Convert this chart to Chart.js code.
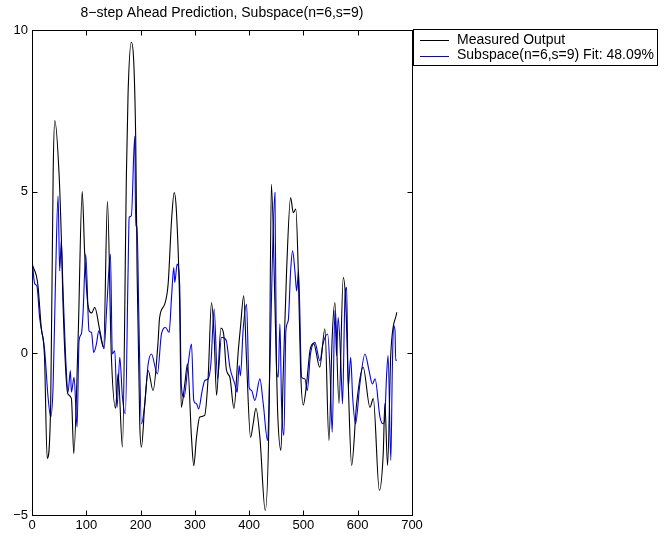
<!DOCTYPE html>
<html><head><meta charset="utf-8">
<script src="https://cdn.jsdelivr.net/npm/chart.js@4.4.0/dist/chart.umd.min.js"></script>
<style>html,body{margin:0;padding:0;background:#fff;}#wrap{width:665px;height:537px;position:relative;}</style>
</head><body><div id="wrap"><canvas id="c" width="665" height="537"></canvas></div>
<script>
const chartTitle = '8\u2212step Ahead Prediction, Subspace(n=6,s=9)';
const seriesNames = ['Measured Output', 'Subspace(n=6,s=9) Fit: 48.09%'];
const xTicks = [0, 100, 200, 300, 400, 500, 600, 700];
const yTicks = [-5, 0, 5, 10];
const yTickLabels = ['\u22125', '0', '5', '10'];

const measuredX = [0, 8, 11, 17, 23, 28, 34.5, 39, 42, 50, 54, 57, 62, 66, 72.6, 77, 85, 92.5, 97, 103, 110, 115.6, 125, 132, 139, 146, 154, 158.6, 166.6, 174, 177, 183, 191, 193.6, 198.5, 201.6, 207.8, 214, 223, 232, 235, 244.6, 250.8, 257, 262, 266, 272, 275, 281.5, 286.5, 293.8, 298, 303, 309, 318, 324.5, 330.7, 335.6, 340, 348, 353, 358, 364.5, 372, 380, 384, 390, 395, 402.6, 407.5, 412.5, 419.8, 429.6, 437, 441, 447.5, 452.4, 458.5, 463, 469, 476.4, 481.3, 486, 490.5, 494.8, 499.7, 505.8, 512, 519, 530, 539.6, 547, 553, 558, 565.5, 573.4, 578, 582.6, 588.8, 598, 610, 622.6, 628.7, 639.8, 647, 650, 655, 661, 672];
const measuredY = [2.75, 2.4, 2.1, 0.8, -0.1, -3.25, -1.5, 5.6, 7.2, 5.5, 3.6, 1.6, -0.5, -1.25, -1.4, -3.1, 0.5, 5.0, 3.1, 1.5, 1.25, 1.42, 0.7, 0.19, 4.7, 0.0, -1.7, -0.63, -2.9, 5.6, 8.06, 9.62, 6.7, 2.5, -2.17, -2.9, -1.55, -0.53, -1.15, 0.3, 1.1, 1.53, 2.15, 4.1, 4.97, 4.4, 1.53, -1.67, -0.94, -0.32, -2.6, -3.47, -2.6, -1.97, -1.92, -0.74, 1.57, 0.5, -1.3, 0.78, 0.6, -0.5, -0.74, -1.7, 0.08, 0.8, 1.78, -0.12, -2.6, -2.17, -1.7, -2.6, -4.86, -1.56, 5.23, 1.53, -1.77, -3.0, -0.53, 2.55, 4.82, 4.35, 4.46, 2.55, -0.53, -1.6, -0.94, 0.08, 0.3, -0.43, 0.76, -2.7, 0.5, 1.57, -1.55, 2.35, 1.53, -0.94, -3.47, -1.55, -0.43, -1.67, -1.4, -4.24, -3.1, -1.55, -3.47, 0.0, 1.27];

const predictedX = [0, 5, 9, 14, 23.4, 29.6, 34.5, 38.8, 43.7, 48, 51, 54, 57, 62, 66.4, 70.7, 72.6, 77.5, 83, 86.7, 91, 94, 99, 105, 109.5, 113.7, 118.7, 123, 128, 132.7, 138, 144.5, 148, 152.5, 156.7, 161.7, 166.6, 172, 177, 179, 183, 189.3, 191, 193.6, 196.7, 201.6, 207.8, 214, 220, 231, 238.5, 246, 252.6, 257, 261.2, 263, 267.4, 272, 275, 280, 287.6, 293.8, 298, 303, 307, 313.5, 318.4, 324.5, 329.5, 335.6, 341.8, 349, 352, 358, 364.5, 373.7, 378, 381.6, 384, 389, 395.3, 400, 404.5, 410.6, 419.8, 426, 434, 438, 447.5, 450.5, 453.6, 456.7, 459.7, 464, 467.7, 472, 476.4, 480, 484.3, 487.5, 491, 496.7, 502.8, 507, 513, 521, 530.4, 536, 544.6, 549, 553, 558, 561, 564, 569, 572, 576.5, 579.6, 582.6, 587, 590.7, 596, 604, 613.4, 620.8, 627, 632, 641, 647, 650, 653, 656, 661, 663.7, 666, 668.7, 670, 672];
const predictedY = [2.95, 2.15, 2.09, 1.11, 0.08, -1.36, -1.97, -1.05, 2.55, 4.87, 2.55, 3.48, 2.04, -0.12, -1.2, -0.53, -1.2, -0.74, -2.28, 0.39, 0.6, 1.22, 3.07, 0.7, 0.65, 0.03, 0.29, 0.7, 0.39, 0.14, 1.52, 3.07, -0.02, 0.08, -1.67, -0.12, -1.36, -1.87, 2.55, 4.2, 4.25, 6.72, 3.94, 3.94, 1.22, -2.18, -1.56, -0.33, -0.02, -0.64, 0.6, 0.8, 0.65, 1.73, 2.65, 2.19, 2.76, 2.14, -0.95, -1.36, -0.33, 0.29, -1.46, -1.56, -1.72, -1.15, -0.84, -0.79, -0.33, 1.37, -0.79, 0.49, 0.49, 0.39, -0.43, -0.95, -1.2, -0.38, -0.69, 0.75, 1.52, -1.05, -1.15, -1.46, -0.79, -1.56, -2.7, -0.53, 4.97, -0.53, -0.74, 0.91, -1.56, -2.54, 0.7, 1.01, 2.55, 3.17, 2.55, 1.93, 2.55, -0.74, -0.79, -1.15, -0.02, 0.34, -0.23, 0.29, 0.6, -0.53, -2.44, 1.32, -0.07, 1.11, -0.33, -1.56, 1.73, 2.04, -1.05, -0.12, -1.36, -2.18, -0.95, -0.02, -0.53, -0.95, -0.79, -1.97, -2.18, -1.97, -0.74, -0.07, -3.31, -0.53, 0.86, 0.7, -0.22, -0.2];

const FONT = '"Liberation Sans", Arial, Helvetica, sans-serif';
const toPts = (xs, ys) => xs.map((x, i) => ({ x: x, y: ys[i] }));

const framePlugin = {
  id: 'frame',
  afterDraw(chart) {
    const ctx = chart.ctx, a = chart.chartArea;
    const xs = chart.scales.x, ys = chart.scales.y;
    ctx.save();
    ctx.strokeStyle = '#000';
    ctx.lineWidth = 1;
    const L = Math.round(a.left) + 0.5, R = Math.round(a.right) + 0.5;
    const T = Math.round(a.top) + 0.5, B = Math.round(a.bottom) + 0.5;
    ctx.strokeRect(L, T, R - L, B - T);
    ctx.beginPath();
    xTicks.forEach(v => {
      if (v === xs.min || v === xs.max) return;
      const px = Math.round(xs.getPixelForValue(v)) + 0.5;
      ctx.moveTo(px, B); ctx.lineTo(px, B - 5);
      ctx.moveTo(px, T); ctx.lineTo(px, T + 5);
    });
    yTicks.forEach(v => {
      if (v === ys.min || v === ys.max) return;
      const py = Math.round(ys.getPixelForValue(v)) + 0.5;
      ctx.moveTo(L, py); ctx.lineTo(L + 5, py);
      ctx.moveTo(R, py); ctx.lineTo(R - 5, py);
    });
    ctx.stroke();
    // title
    ctx.fillStyle = '#000';
    ctx.font = '14px ' + FONT;
    ctx.textAlign = 'center';
    ctx.textBaseline = 'middle';
    ctx.fillText(chartTitle, (a.left + a.right) / 2, 13);
    // legend
    const lx = 413.5, ly = 29.5, lw = 244, lh = 36;
    ctx.fillStyle = '#fff';
    ctx.fillRect(lx, ly, lw, lh);
    ctx.strokeRect(lx, ly, lw, lh);
    ctx.textAlign = 'left';
    chart.data.datasets.forEach((ds, i) => {
      const y = 40 + i * 15.5;
      ctx.strokeStyle = ds.borderColor;
      ctx.beginPath();
      ctx.moveTo(420, Math.round(y) + 0.5);
      ctx.lineTo(449, Math.round(y) + 0.5);
      ctx.stroke();
      ctx.fillStyle = '#000';
      ctx.font = '14px ' + FONT;
      ctx.fillText(ds.label, 457, y);
    });
    ctx.restore();
  }
};

new Chart(document.getElementById('c'), {
  type: 'line',
  data: {
    datasets: [
      { label: seriesNames[0], data: toPts(measuredX, measuredY), borderColor: '#000000', borderWidth: 1.1, pointRadius: 0, cubicInterpolationMode: 'monotone', fill: false },
      { label: seriesNames[1], data: toPts(predictedX, predictedY), borderColor: '#0000ff', borderWidth: 1.1, pointRadius: 0, cubicInterpolationMode: 'monotone', fill: false }
    ]
  },
  options: {
    responsive: false,
    animation: false,
    devicePixelRatio: 1,
    layout: { padding: { top: 30, right: 253, bottom: 0, left: 0 } },
    plugins: { legend: { display: false }, title: { display: false }, tooltip: { enabled: false } },
    scales: {
      x: {
        type: 'linear', min: 0, max: 700,
        afterBuildTicks: s => { s.ticks = xTicks.map(v => ({ value: v })); },
        afterFit: s => { s.height = 22; },
        grid: { display: false, drawTicks: false },
        border: { display: false },
        ticks: { color: '#000', font: { family: FONT, size: 13 }, padding: 3, maxRotation: 0, autoSkip: false, callback: v => String(v) }
      },
      y: {
        type: 'linear', min: -5, max: 10,
        afterBuildTicks: s => { s.ticks = yTicks.map(v => ({ value: v })); },
        afterFit: s => { s.width = 32; },
        grid: { display: false, drawTicks: false },
        border: { display: false },
        ticks: { color: '#000', font: { family: FONT, size: 13 }, padding: 4, autoSkip: false, callback: v => yTickLabels[yTicks.indexOf(v)] }
      }
    }
  },
  plugins: [framePlugin]
});
</script></body></html>
